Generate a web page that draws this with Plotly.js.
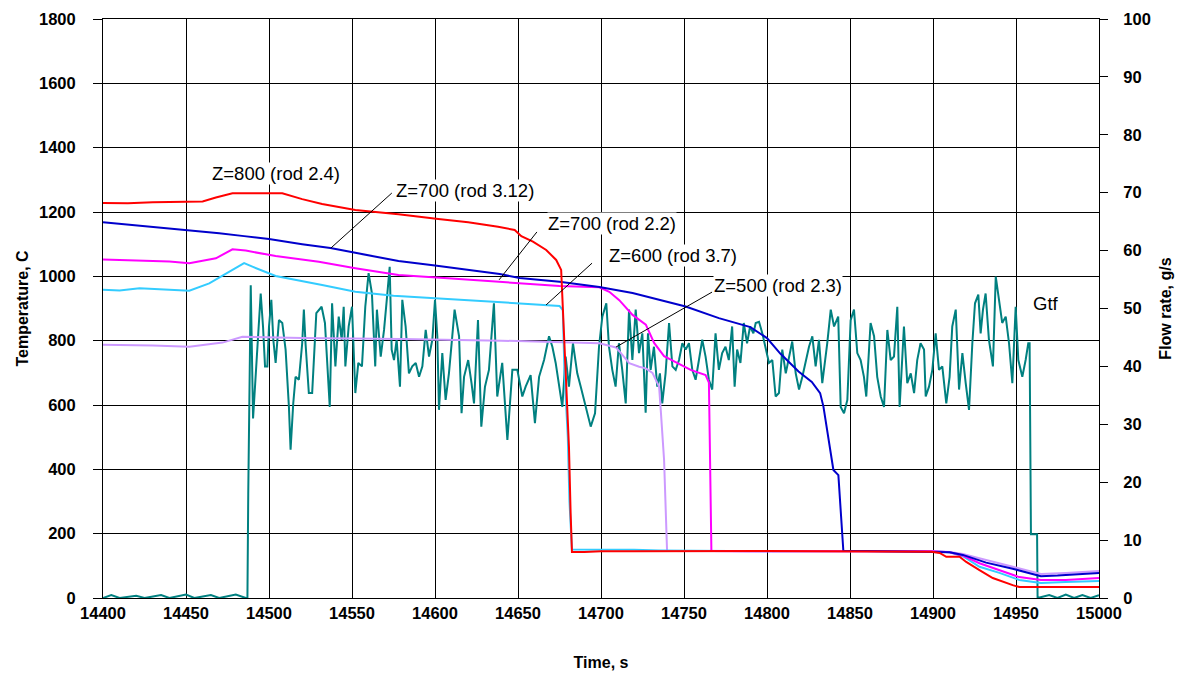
<!DOCTYPE html>
<html>
<head>
<meta charset="utf-8">
<script src="https://cdn.plot.ly/plotly-3.0.1.min.js"></script>
<style>html,body{margin:0;padding:0;background:#fff;}#chart{width:1181px;height:679px;}</style>
</head>
<body>
<div id="chart"></div>
<script>
// ---- Data ----
const redTime = [14400,14415,14430,14450,14460,14468,14478,14495,14508,14520,14532,14552,14565,14578,14602,14620,14638,14648,14652,14659,14667,14673,14676,14677.5,14678.7,14679.7,14680.7,14681.7,14682.5,14690,14700,14720,14750,14780,14800,14830,14850,14880,14899,14904,14908,14916,14920,14928,14936,14948,14952,14975,15000];
const redTemp = [1228,1227,1230,1231,1233,1245,1258,1258,1258,1240,1225,1206,1200,1193,1178,1168,1154,1144,1125,1108,1082,1051,1020,850,699,600,470,264,143,143,145,145,146,145,146,145,145,145,144,140,128,128,112,87,62,40,34,34,34];

const blueTime = [14400,14420,14440,14452,14470,14485,14500,14520,14537,14552,14578,14600,14620,14639,14651,14675,14699,14719,14751,14771,14790,14800,14808,14819,14827,14832,14834,14836,14838,14840,14843,14844,14846,14860,14880,14900,14910,14918,14932,14948,14960,14965,14975,15000];
const blueTemp = [1168,1158,1150,1144,1134,1125,1116,1100,1088,1073,1048,1034,1020,1007,995,983,967,948,906,870,842,808,760,704,672,637,595,533,460,398,382,305,146,146,145,144,142,134,110,91,75,68,70,78];

const magTime = [14400,14420,14440,14452,14468,14478,14486,14504,14530,14552,14578,14610,14639,14675,14699,14705,14711,14719,14727,14732,14738,14746,14754,14763,14765,14765.5,14766,14766.5,14790,14820,14850,14880,14900,14910,14918,14928,14940,14952,14965,14980,15000];
const magTemp = [1052,1050,1046,1041,1056,1084,1080,1063,1045,1025,1004,993,983,970,966,952,926,880,850,793,752,730,709,693,670,500,367,146,145,146,145,145,145,142,132,108,87,65,56,56,62];

const cyanTime = [14400,14410,14422,14440,14452,14464,14476,14485,14490,14504,14532,14552,14575,14618,14651,14675,14677,14678,14680,14681,14682.5,14700,14720,14735,14760,14800,14850,14900,14910,14918,14928,14940,14952,14965,14980,15000];
const cyanTemp = [958,956,963,958,955,978,1014,1041,1030,1001,973,952,940,926,916,908,895,700,500,300,151,151,150,148,146,145,146,145,142,130,97,78,56,47,50,53];

const lavTime = [14400,14430,14452,14472,14484,14520,14580,14640,14699,14709,14713,14717,14723,14727,14731,14735,14736,14738,14739.8,14760,14800,14850,14900,14910,14918,14932,14948,14960,14965,14980,15000];
const lavTemp = [787,785,781,794,812,808,805,800,792,779,755,730,719,714,700,657,584,429,146,146,145,146,145,143,137,118,97,80,75,78,84];

const gtfTime = [14400,14405,14410,14420,14425,14435,14440,14450,14455,14465,14470,14480,14486,14487,14487.5,14488,14489,14490.4,14491.6,14493,14494,14495,14496.4,14497.6,14499,14500,14501.4,14502.6,14504,14506,14508,14510,14512,14513,14514.6,14516,14518,14520,14521,14522,14524,14526,14528.5,14531.7,14533.7,14535,14536.6,14538,14540,14542,14543.8,14545,14546,14548,14550,14552,14553.8,14556,14558,14560,14562,14564,14565,14567.3,14569.3,14571.3,14572.7,14573.9,14575.3,14576.9,14578.9,14580.3,14582.3,14584.3,14586.3,14588.4,14590.4,14592.4,14594.4,14596.4,14598.4,14600,14601.4,14602.4,14604.4,14606.4,14608.4,14610.4,14611.8,14614.5,14616,14617.5,14620,14622,14623.5,14625.9,14627.9,14630.1,14632.5,14635.5,14637.5,14640.5,14643.6,14646.6,14649.6,14652.6,14654.6,14657.6,14660.2,14662.7,14665.7,14668.7,14670.7,14672.7,14674.7,14676.7,14678.7,14680.7,14683.1,14685.7,14687.8,14689.8,14691.8,14693.8,14696.4,14698.8,14700.8,14703.2,14704.8,14706.8,14708.8,14710.8,14712.8,14714.9,14716.9,14718.9,14720.9,14722.9,14724.9,14726.9,14728.3,14729.9,14731.9,14733.9,14735.5,14736.9,14738.9,14741,14743,14745,14747,14749,14751,14753,14755,14757,14759,14761,14763,14765,14767,14769,14771,14773,14775,14777,14779,14780.5,14782,14784,14786,14788,14789.8,14791.8,14793.2,14795.2,14797.2,14799.2,14801.2,14803.2,14805.2,14807.2,14809.2,14811.3,14813.3,14815.2,14817.3,14819.3,14821.3,14823.3,14825.3,14827.3,14829.3,14831.3,14833.3,14836.3,14838.4,14840.4,14842.9,14844.4,14846.4,14848.4,14850.4,14852.4,14854.4,14856.4,14858.4,14859.8,14862.4,14864.5,14866.4,14868.5,14870.5,14872.5,14874.5,14876.5,14878.5,14879.9,14882.5,14884.5,14886.6,14888.6,14890.5,14892.5,14894.6,14895.6,14897.6,14899.6,14901.6,14903.6,14905.6,14908,14910,14911.6,14913.7,14915.7,14917.7,14919.7,14921.7,14923.7,14925.3,14927.3,14928.7,14930.1,14931.7,14933.7,14936.1,14937.8,14939.8,14941.7,14943.8,14945.8,14947.8,14949.8,14951.4,14953.8,14955.8,14957.4,14958.2,14959,14962.7,14963,14970,14975,14980,14985,14990,14995,15000];
const gtfFlow = [0,0.5,0,0.4,0,0.5,0,0.6,0,0.5,0,0.6,0,0,18,33,54,31,36.5,43.4,47.5,52.6,46.9,40,40,46.9,51.5,44.6,40.6,48,47.5,42.9,33,25.6,33.6,38.2,37.7,44,49.8,44,35.4,35.4,49.2,50.3,47.5,41.1,33,50.9,40,48.6,44.6,50.3,40,46.9,50.3,35.4,40.6,40,50.3,56.1,52.6,40,49.8,41.7,46.3,52.6,57.2,42.9,41.1,44.6,36.5,51.5,46.9,38.8,40,40.6,38.2,40,46.3,41.7,44.6,51.5,45.2,32.5,42.3,34.2,38.8,45.2,49.8,45.2,31.9,38.2,41.1,37.1,33.6,48,29.6,36.5,39.4,50.9,34.8,40.6,27.3,39.4,39.4,34.8,36.5,38.5,30.2,38.2,41.1,45.2,43.4,40.6,36.5,33,41.7,36.5,44,38.8,36.5,34.2,31.9,29.6,31.9,43.4,48.6,50.9,43.4,39.4,36.5,44,39.4,33.6,49.8,41.1,49.8,42.3,45.7,32,45.7,39.4,43.4,36.5,38.8,33.6,38.8,47.5,40,39.4,41.1,44,42.9,44,39.4,37.7,41.1,44.6,41.7,37.7,36,45.7,39.4,42.3,43.4,41.1,46.9,36.5,42.9,40.6,47.5,44,46.9,45.7,47.5,47.7,45.7,42.9,40.6,41.1,34.8,35.4,42.9,38.8,41.7,44.3,38.8,36,38.2,41.1,43.4,45.2,40,44.6,37.1,44,49.8,46.9,48.6,33,31.9,34.2,48,49.8,42.3,41.1,38.2,34.8,47.5,45.2,38.2,34.8,33,46.3,41.1,41.7,50.3,33,46.9,37.1,38.8,35.4,41.1,44,42.9,34.8,36.5,39.4,45.7,39.4,40,33.6,38.2,46.9,49.8,36,42.3,37.1,32.5,44,50.9,52.4,45.7,49.8,52.6,44.6,40,55.5,50.9,47.5,48.6,44,37.1,50.3,41.1,38.2,41.1,44,44,11,11,0,0.5,0,0.6,0,0.5,0,0.5];

const xTicks = [14400,14450,14500,14550,14600,14650,14700,14750,14800,14850,14900,14950,15000];
const labels = ["Z=800 (rod 2.4)","Z=700 (rod 3.12)","Z=700 (rod 2.2)","Z=600 (rod 3.7)","Z=500 (rod 2.3)","Gtf"];

// ---- Chart ----
const FONT = "Liberation Sans, Arial, sans-serif";
const lw = 2;
const traces = [
  {x: gtfTime, y: gtfFlow, yaxis: 'y', line: {color: '#008080', width: lw}},
  {x: lavTime, y: lavTemp, yaxis: 'y2', line: {color: '#CC99FF', width: lw}},
  {x: cyanTime, y: cyanTemp, yaxis: 'y2', line: {color: '#33CCFF', width: lw}},
  {x: magTime, y: magTemp, yaxis: 'y2', line: {color: '#FF00FF', width: lw}},
  {x: blueTime, y: blueTemp, yaxis: 'y2', line: {color: '#0000CC', width: lw}},
  {x: redTime, y: redTemp, yaxis: 'y2', line: {color: '#FF0000', width: lw}}
].map(t => Object.assign({type: 'scatter', mode: 'lines', xaxis: 'x', hoverinfo: 'skip'}, t));

const tickFont = {family: FONT, size: 16.5, color: '#000', weight: 'bold'};
const titleFont = {family: FONT, size: 16, color: '#000', weight: 'bold'};
const annFont = {family: FONT, size: 18.5, color: '#000'};

function ann(text, x, y) {
  return {text: text, x: x, y: y, xref: 'x', yref: 'y2', showarrow: false,
          font: annFont, bgcolor: 'rgba(255,255,255,1)', borderpad: 0};
}
function leader(x0, y0, x1, y1) {
  return {type: 'line', xref: 'x', yref: 'y2', x0: x0, y0: y0, x1: x1, y1: y1,
          line: {color: '#000', width: 1}};
}

const layout = {
  width: 1181, height: 679,
  margin: {l: 103, r: 82, t: 19, b: 81},
  paper_bgcolor: '#fff', plot_bgcolor: '#fff',
  showlegend: false,
  xaxis: {
    range: [14400, 15000], tickvals: xTicks, ticktext: xTicks.map(String),
    showgrid: true, gridcolor: '#000', gridwidth: 1,
    showline: true, linecolor: '#000', linewidth: 1, mirror: true,
    ticks: '', zeroline: false,
    tickfont: tickFont,
    title: {text: 'Time, s', font: titleFont, standoff: 36}
  },
  yaxis: {
    range: [0, 100], dtick: 10, side: 'right',
    showgrid: false, zeroline: false,
    showline: true, linecolor: '#000', linewidth: 1,
    ticks: 'outside', ticklen: 8, tickcolor: '#000', ticklabelstandoff: 12,
    tickfont: tickFont,
    title: {text: 'Flow rate, g/s', font: titleFont, standoff: 9}
  },
  yaxis2: {
    range: [0, 1800], dtick: 200, side: 'left', overlaying: 'y',
    showgrid: true, gridcolor: '#000', gridwidth: 1, zeroline: false,
    showline: true, linecolor: '#000', linewidth: 1,
    ticks: 'outside', ticklen: 9, tickcolor: '#000', ticklabelstandoff: 14,
    tickfont: tickFont,
    title: {text: 'Temperature, C', font: titleFont, standoff: 6}
  },
  shapes: [
    leader(14574, 1259, 14537.3, 1088),
    leader(14661.4, 1138, 14638.6, 989),
    leader(14694.6, 1041, 14666.9, 911),
    leader(14766.9, 951, 14709, 780)
  ],
  annotations: [
    ann(labels[0], 14504.2, 1321),
    ann(labels[1], 14618, 1268),
    ann(labels[2], 14706.6, 1163),
    ann(labels[3], 14743.4, 1066),
    ann(labels[4], 14806.6, 970),
    ann(labels[5], 14968, 917)
  ]
};

Plotly.newPlot('chart', traces, layout, {staticPlot: true, displayModeBar: false});
</script>
</body>
</html>
